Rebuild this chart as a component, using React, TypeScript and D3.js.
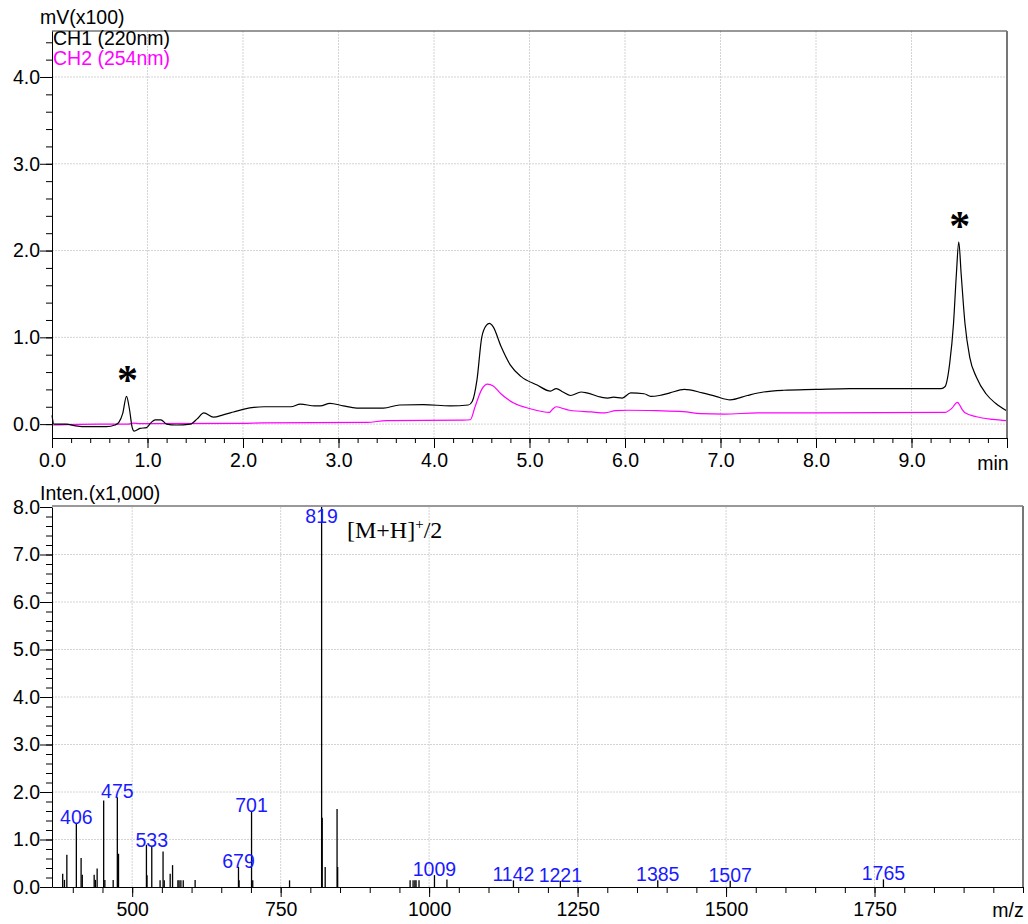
import React, { useEffect, useRef } from 'react';
import * as d3 from 'd3';

// chromatogram, CH1 (220nm)
const ch1Time = [0, 0.02, 0.15, 0.25, 0.37, 0.57, 0.66, 0.7, 0.74, 0.78, 0.81, 0.84, 0.86, 0.92, 0.99, 1.04, 1.08, 1.14, 1.2, 1.3, 1.45, 1.52, 1.59, 1.69, 1.8, 1.9, 2.0, 2.22, 2.5, 2.6, 2.75, 2.81, 2.91, 3.05, 3.19, 3.47, 3.64, 3.89, 4.17, 4.36, 4.4, 4.45, 4.5, 4.55, 4.58, 4.62, 4.7, 4.8, 4.91, 5.08, 5.22, 5.28, 5.35, 5.43, 5.54, 5.6, 5.75, 5.82, 5.88, 5.97, 6.06, 6.2, 6.27, 6.36, 6.47, 6.62, 6.81, 6.95, 7.1, 7.28, 7.45, 7.66, 8.0, 8.35, 9.0, 9.31, 9.35, 9.4, 9.44, 9.47, 9.495, 9.52, 9.56, 9.61, 9.68, 9.78, 9.88, 10.0];
const ch1Value = [0.1, 0.0, 0.0, -0.02, -0.03, -0.03, -0.01, 0.02, 0.12, 0.32, 0.18, -0.04, -0.08, -0.05, -0.04, 0.02, 0.05, 0.05, 0.0, -0.01, 0.0, 0.06, 0.13, 0.08, 0.11, 0.14, 0.17, 0.2, 0.2, 0.23, 0.21, 0.21, 0.24, 0.21, 0.185, 0.185, 0.22, 0.225, 0.21, 0.22, 0.26, 0.51, 1.0, 1.14, 1.16, 1.12, 0.9, 0.68, 0.55, 0.45, 0.38, 0.41, 0.37, 0.33, 0.37, 0.36, 0.31, 0.3, 0.31, 0.3, 0.36, 0.35, 0.32, 0.33, 0.36, 0.4, 0.36, 0.32, 0.28, 0.33, 0.37, 0.39, 0.4, 0.41, 0.41, 0.41, 0.43, 0.7, 1.16, 1.73, 2.1, 1.73, 1.16, 0.77, 0.54, 0.35, 0.24, 0.15];

// CH2 (254nm)
const ch2Time = [0, 0.5, 0.8, 0.85, 0.92, 2.0, 2.2, 3.3, 3.5, 4.3, 4.38, 4.43, 4.5, 4.56, 4.62, 4.7, 4.84, 5.0, 5.21, 5.24, 5.28, 5.35, 5.42, 5.65, 5.79, 5.9, 6.03, 6.33, 6.61, 6.79, 7.04, 7.39, 8.0, 9.35, 9.42, 9.48, 9.53, 9.56, 9.68, 9.85, 10.0];
const ch2Value = [-0.01, 0.0, 0.0, 0.012, 0.005, 0.008, 0.015, 0.02, 0.04, 0.045, 0.05, 0.2, 0.4, 0.46, 0.44, 0.35, 0.24, 0.18, 0.135, 0.17, 0.2, 0.18, 0.16, 0.14, 0.13, 0.155, 0.16, 0.155, 0.145, 0.12, 0.115, 0.13, 0.13, 0.135, 0.18, 0.25, 0.17, 0.13, 0.085, 0.055, 0.04];

const starTimes = [0.78, 9.495];
const starValues = [0.32, 2.1];

// mass spectrum
const msMz = [383, 386, 390, 406, 414, 416, 436, 438, 441, 452, 454, 468, 475, 477, 524, 525, 533, 547, 552, 554, 564, 568, 577, 579, 582, 586, 606, 679, 680, 701, 703, 765, 819, 820, 825, 845, 846, 968, 973, 976, 978, 983, 1009, 1030, 1142, 1221, 1385, 1507, 1765];
const msInten = [0.28, 0.15, 0.68, 1.35, 0.61, 0.26, 0.26, 0.15, 0.39, 1.82, 0.15, 0.15, 1.89, 0.7, 0.89, 0.25, 0.86, 0.14, 0.75, 0.14, 0.28, 0.46, 0.14, 0.14, 0.14, 0.14, 0.15, 0.42, 0.14, 1.6, 0.14, 0.14, 8.0, 1.46, 0.42, 1.64, 0.42, 0.14, 0.14, 0.14, 0.14, 0.14, 0.25, 0.16, 0.14, 0.13, 0.14, 0.13, 0.16];
const msLabels = [406, 475, 533, 679, 701, 819, 1009, 1142, 1221, 1385, 1507, 1765];

const timeTicks = [0, 1, 2, 3, 4, 5, 6, 7, 8, 9];
const mvTicks = [0, 1, 2, 3, 4];
const mzTicks = [500, 750, 1000, 1250, 1500, 1750];
const intenTicks = [0, 1, 2, 3, 4, 5, 6, 7, 8];

const FONT = '"Liberation Sans", Arial, sans-serif';

const App = () => {
  const svgRef = useRef<SVGSVGElement>(null);

  useEffect(() => {
    const svg = d3.select(svgRef.current);
    svg.selectAll('*').remove();

    const fs = 19.5;

    // ---------- top: chromatogram ----------
    const x1 = d3.scaleLinear().domain([0, 10]).range([52, 1007]);
    const y1 = d3.scaleLinear().domain([-0.16, 4.53]).range([438, 31]);
    const top = svg.append('g');

    top.selectAll('.gx').data(timeTicks.slice(1)).enter().append('line')
      .attr('x1', d => x1(d)).attr('x2', d => x1(d))
      .attr('y1', y1.range()[1]).attr('y2', y1.range()[0])
      .attr('stroke', '#d4d4d4').attr('stroke-dasharray', '2,1');
    top.selectAll('.gy').data(mvTicks).enter().append('line')
      .attr('x1', 52).attr('x2', 1007)
      .attr('y1', d => y1(d)).attr('y2', d => y1(d))
      .attr('stroke', '#d4d4d4').attr('stroke-dasharray', '2,1');

    const line = d3.line<number>().curve(d3.curveMonotoneX);
    top.append('path')
      .attr('d', line.x(d => x1(d)).y((d, i) => y1(ch2Value[i]))(ch2Time))
      .attr('fill', 'none').attr('stroke', '#ff00ff').attr('stroke-width', 1.2);
    top.append('path')
      .attr('d', line.x(d => x1(d)).y((d, i) => y1(ch1Value[i]))(ch1Time))
      .attr('fill', 'none').attr('stroke', '#000').attr('stroke-width', 1.2);

    // box
    top.append('line').attr('x1', 52).attr('x2', 1007).attr('y1', 31).attr('y2', 31).attr('stroke', '#333');
    top.append('line').attr('x1', 1007).attr('x2', 1007).attr('y1', 31).attr('y2', 438).attr('stroke', '#777').attr('stroke-width', 2);

    top.append('g').attr('transform', 'translate(0,438)')
      .call(d3.axisBottom(x1).tickValues(d3.range(0, 10.01, 0.2)).tickSize(5).tickFormat(() => ''))
      .call(g => g.select('.domain').remove());
    top.append('g').attr('transform', 'translate(0,438)')
      .call(d3.axisBottom(x1).tickValues([...timeTicks, 10]).tickSize(10).tickSizeOuter(0).tickFormat(d => (+d === 10 ? '' : d3.format('.1f')(+d))))
      .call(g => g.selectAll('text').attr('font-size', fs).attr('font-family', FONT).attr('dy', '0.95em').attr('y', 10).attr('fill', '#000'));
    top.append('g').attr('transform', 'translate(52,0)')
      .call(d3.axisLeft(y1).tickValues(d3.range(0, 4.41, 0.2)).tickSize(6).tickFormat(() => ''))
      .call(g => g.select('.domain').remove());
    top.append('g').attr('transform', 'translate(52,0)')
      .call(d3.axisLeft(y1).tickValues(mvTicks).tickSize(12).tickSizeOuter(0).tickFormat(d3.format('.1f')))
      .call(g => g.selectAll('text').attr('font-size', fs).attr('font-family', FONT).attr('x', -12).attr('fill', '#000'));

    top.append('text').attr('x', 40).attr('y', 24).attr('font-size', fs).attr('font-family', FONT).text('mV(x100)');
    top.append('text').attr('x', 993).attr('y', 470).attr('text-anchor', 'middle').attr('font-size', fs).attr('font-family', FONT).text('min');
    top.append('text').attr('x', 53).attr('y', 45).attr('font-size', fs).attr('font-family', FONT).attr('fill', '#000').text('CH1 (220nm)');
    top.append('text').attr('x', 53).attr('y', 65).attr('font-size', fs).attr('font-family', FONT).attr('fill', '#ff00ff').text('CH2 (254nm)');

    top.selectAll('.star').data(starTimes).enter().append('text')
      .attr('x', d => x1(d) + 1).attr('y', (d, i) => y1(starValues[i]) - 2)
      .attr('text-anchor', 'middle').attr('font-size', 42).attr('font-weight', 'bold')
      .attr('font-family', '"Liberation Serif", serif')
      .text('*');

    // ---------- bottom: mass spectrum ----------
    const x2 = d3.scaleLinear().domain([365, 2000]).range([52, 1023]);
    const y2 = d3.scaleLinear().domain([0, 8]).range([887, 507]);
    const bot = svg.append('g');

    bot.selectAll('.gx').data(mzTicks).enter().append('line')
      .attr('x1', d => x2(d)).attr('x2', d => x2(d))
      .attr('y1', 507).attr('y2', 887)
      .attr('stroke', '#d4d4d4').attr('stroke-dasharray', '2,1');
    bot.selectAll('.gy').data(intenTicks.slice(1, 8)).enter().append('line')
      .attr('x1', 52).attr('x2', 1023)
      .attr('y1', d => y2(d)).attr('y2', d => y2(d))
      .attr('stroke', '#d4d4d4').attr('stroke-dasharray', '2,1');

    bot.selectAll('.bar').data(msMz).enter().append('line')
      .attr('x1', d => x2(d)).attr('x2', d => x2(d))
      .attr('y1', y2(0)).attr('y2', (d, i) => y2(Math.min(msInten[i], 8)))
      .attr('stroke', '#000').attr('stroke-width', 1.3);

    bot.append('line').attr('x1', 52).attr('x2', 1023).attr('y1', 506).attr('y2', 506).attr('stroke', '#333');
    bot.append('line').attr('x1', 1023).attr('x2', 1023).attr('y1', 506).attr('y2', 887).attr('stroke', '#777').attr('stroke-width', 2);

    bot.append('g').attr('transform', 'translate(0,887)')
      .call(d3.axisBottom(x2).tickValues(d3.range(400, 2001, 50)).tickSize(6).tickFormat(() => ''))
      .call(g => g.select('.domain').remove());
    bot.append('g').attr('transform', 'translate(0,887)')
      .call(d3.axisBottom(x2).tickValues(mzTicks).tickSize(10).tickSizeOuter(0).tickFormat(d3.format('d')))
      .call(g => g.selectAll('text').attr('font-size', fs).attr('font-family', FONT).attr('dy', '0.95em').attr('y', 10).attr('fill', '#000'));
    bot.append('g').attr('transform', 'translate(52,0)')
      .call(d3.axisLeft(y2).tickValues(d3.range(0, 8.01, 0.2)).tickSize(6).tickFormat(() => ''))
      .call(g => g.select('.domain').remove());
    bot.append('g').attr('transform', 'translate(52,0)')
      .call(d3.axisLeft(y2).tickValues(intenTicks).tickSize(12).tickSizeOuter(0).tickFormat(d3.format('.1f')))
      .call(g => g.selectAll('text').attr('font-size', fs).attr('font-family', FONT).attr('x', -12).attr('fill', '#000'));

    bot.append('text').attr('x', 40).attr('y', 500).attr('font-size', fs).attr('font-family', FONT).text('Inten.(x1,000)');
    bot.append('text').attr('x', 1008).attr('y', 917).attr('text-anchor', 'middle').attr('font-size', fs).attr('font-family', FONT).text('m/z');

    bot.selectAll('.lab').data(msLabels).enter().append('text')
      .attr('x', d => x2(d))
      .attr('y', d => {
        const i = msMz.indexOf(d);
        return Math.max(y2(msInten[i]) + 1, 523);
      })
      .attr('text-anchor', 'middle').attr('font-size', fs).attr('font-family', FONT)
      .attr('fill', '#1a1aff').text(d => d);

    const ann = bot.append('text').attr('x', 347).attr('y', 538)
      .attr('font-size', 24).attr('font-family', '"Liberation Serif", serif').attr('fill', '#000');
    ann.append('tspan').text('[M+H]');
    ann.append('tspan').attr('dy', -9).attr('font-size', 15).text('+');
    ann.append('tspan').attr('dy', 9).text('/2');
  }, []);

  return (
    <svg ref={svgRef} width={1028} height={924} viewBox="0 0 1028 924"
      style={{ position: 'absolute', left: 0, top: 0, background: '#fff' }} />
  );
};

export default App;
